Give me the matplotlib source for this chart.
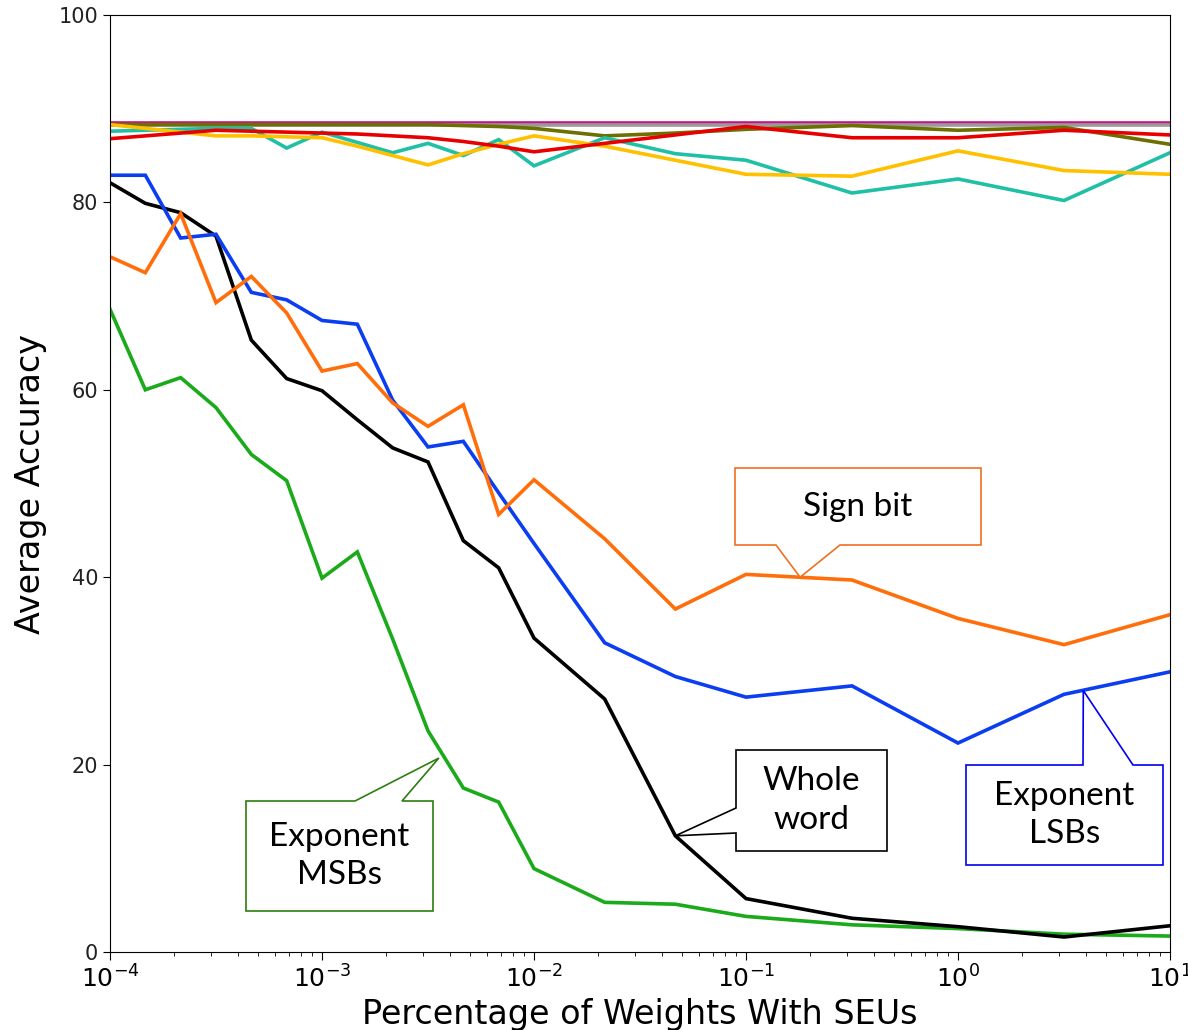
import numpy as np
import matplotlib
matplotlib.use("Agg")
import matplotlib.pyplot as plt
from matplotlib.patches import Polygon

# fraction of weights hit by SEUs (percent), log spaced
pct = [1e-4 * 10 ** (k / 6) for k in range(13)] + \
      [10 ** (-5 / 3), 10 ** (-4 / 3), 1e-1, 10 ** -0.5, 1.0, 10 ** 0.5, 10.0]

whole_word = [82.1, 79.9, 78.9, 76.4, 65.3, 61.2, 59.9, 56.8, 53.8, 52.3,
              43.9, 41.0, 33.5, 27.0, 12.4, 5.7, 3.6, 2.7, 1.6, 2.8]
exp_lsbs = [82.9, 82.9, 76.2, 76.6, 70.4, 69.6, 67.4, 67.0, 58.9, 53.9,
            54.5, 49.0, 43.6, 33.0, 29.4, 27.2, 28.4, 22.3, 27.5, 29.9]
sign_bit = [74.2, 72.5, 78.8, 69.3, 72.1, 68.2, 62.0, 62.8, 58.6, 56.1,
            58.4, 46.7, 50.4, 44.1, 36.6, 40.3, 39.7, 35.6, 32.8, 36.0]
exp_msbs = [68.6, 60.0, 61.3, 58.1, 53.1, 50.3, 39.9, 42.7, 33.4, 23.6,
            17.5, 16.0, 8.9, 5.3, 5.1, 3.8, 2.9, 2.5, 1.9, 1.7]
mant_a = [87.6, 87.7, 87.8, 87.9, 87.9, 85.8, 87.5, 86.4, 85.3, 86.3,
          85.0, 86.7, 83.9, 86.9, 85.2, 84.5, 81.0, 82.5, 80.2, 85.3]
mant_b = [88.3, 87.9, 87.5, 87.1, 87.1, 87.0, 86.9, 86.0, 85.0, 84.0,
          85.2, 86.2, 87.1, 86.0, 84.5, 83.0, 82.8, 85.5, 83.4, 83.0]
mant_c = [86.8, 87.1, 87.4, 87.7, 87.6, 87.5, 87.4, 87.3, 87.1, 86.9,
          86.5, 86.0, 85.4, 86.3, 87.2, 88.1, 86.9, 86.9, 87.7, 87.2]
mant_d = [88.3, 88.3, 88.3, 88.3, 88.3, 88.3, 88.3, 88.3, 88.3, 88.3,
          88.2, 88.1, 87.9, 87.1, 87.4, 87.8, 88.2, 87.7, 88.0, 86.2]
mant_e = [88.3] * 20
mant_f = [88.5] * 20

series = [
    (mant_f, "#c8108c"),
    (mant_e, "#9a9a9a"),
    (mant_d, "#6b7000"),
    (mant_a, "#1fc0a6"),
    (mant_b, "#ffc000"),
    (mant_c, "#e80000"),
    (exp_msbs, "#1aaa1a"),
    (whole_word, "#000000"),
    (exp_lsbs, "#0a3ef0"),
    (sign_bit, "#ff6e0a"),
]

W, H = 1188, 1030
fig = plt.figure(figsize=(W / 100, H / 100), dpi=100)
ax = fig.add_axes([110 / W, 1 - 952 / H, 1060 / W, 937 / H])

for ys, c in series:
    ax.plot(pct, ys, color=c, lw=2.6, solid_joinstyle="miter")

ax.set_xscale("log")
ax.set_xlim(1e-4, 10)
ax.set_ylim(0, 100)
ax.set_yticks([0, 20, 40, 60, 80, 100])
ax.tick_params(axis="y", labelsize=15, length=5, labelcolor="#222222")
ax.tick_params(axis="x", which="major", labelsize=18, length=6)
ax.tick_params(axis="x", which="minor", length=3)
ax.set_xlabel("Percentage of Weights With SEUs", fontsize=24, labelpad=4)
ax.set_ylabel("Average Accuracy", fontsize=24, labelpad=8)


def to_fig(px, py):
    return (px / W, 1 - py / H)


def callout(text, box, base, tip, color):
    # box: (left, top, right, bottom) in pixels; base: two points on the box edge
    tx, ty = fig.transFigure.inverted().transform(ax.transData.transform(tip))
    l, t, r, b = box
    edge = base[2]
    (b0x, b0y), (b1x, b1y) = base[0], base[1]
    corners = {
        "bottom": [(l, t), (r, t), (r, b), (b1x, b1y), "tip", (b0x, b0y), (l, b)],
        "top": [(l, t), (b0x, b0y), "tip", (b1x, b1y), (r, t), (r, b), (l, b)],
        "left": [(l, t), (r, t), (r, b), (l, b), (b1x, b1y), "tip", (b0x, b0y)],
    }[edge]
    pts = [(tx, ty) if p == "tip" else to_fig(*p) for p in corners]
    fig.patches.append(Polygon(pts, closed=True, facecolor="white",
                               edgecolor=color, lw=1.2,
                               transform=fig.transFigure, zorder=5))
    cx, cy = to_fig((l + r) / 2, (t + b) / 2)
    fig.text(cx, cy, text, ha="center", va="center", fontsize=24,
             family="Lato", linespacing=1.35, zorder=6)


callout("Sign bit", (735, 468, 981, 545),
        ((776, 545), (840, 545), "bottom"), (0.18, 40.0), "#f07020")
callout("Whole\nword", (736, 750, 887, 851),
        ((736, 808), (736, 833), "left"), (pct[14], whole_word[14]), "#000000")
callout("Exponent\nLSBs", (966, 765, 1163, 865),
        ((1083, 765), (1133, 765), "top"), (3.9, 27.9), "#0000ee")
callout("Exponent\nMSBs", (246, 801, 433, 911),
        ((355, 801), (402, 801), "top"), (0.00356, 20.7), "#2e7d10")

fig.savefig("out.png", dpi=100)
